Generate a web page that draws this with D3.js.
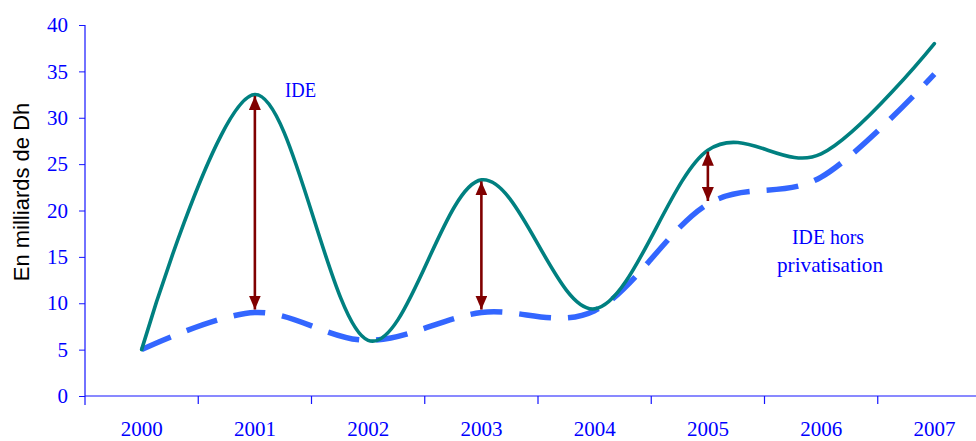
<!DOCTYPE html>
<html>
<head>
<meta charset="utf-8">
<script src="https://cdn.jsdelivr.net/npm/d3@7"></script>
<style>
  html, body { margin: 0; padding: 0; background: #fff; }
  svg { display: block; }
</style>
</head>
<body>
<svg id="chart" width="976" height="441"></svg>
<script>
// Investissements directs étrangers (milliards de Dh)
const years = ["2000", "2001", "2002", "2003", "2004", "2005", "2006", "2007"];
const ide = [5, 32.5, 6, 23.3, 9.4, 26.5, 26.1, 38];
const ideHorsPrivatisation = [5, 9, 6, 9, 9.2, 20.7, 23.6, 34.7];
const yTicks = [0, 5, 10, 15, 20, 25, 30, 35, 40];
const gapYears = ["2001", "2003", "2005"];

const svg = d3.select("#chart");
const plotLeft = 85, plotRight = 991, plotTop = 25, plotBottom = 396;

const x = d3.scaleBand().domain(years).range([plotLeft, plotRight]).paddingInner(0).paddingOuter(0);
const cx = d => x(d) + x.bandwidth() / 2;
const y = d3.scaleLinear().domain([0, 40]).range([plotBottom, plotTop]);

const axisBlue = "#1414ff";
const serif = "'Liberation Serif', 'Times New Roman', serif";

// Y axis
const gy = svg.append("g")
  .attr("transform", `translate(${plotLeft},0)`)
  .call(d3.axisLeft(y).tickValues(yTicks).tickSize(6).tickSizeOuter(0).tickPadding(11));
gy.select(".domain").remove();
gy.selectAll(".tick line").attr("stroke", axisBlue);
gy.selectAll(".tick text")
  .attr("fill", "#0000ff")
  .attr("font-family", serif)
  .attr("font-size", 21);
svg.append("line")
  .attr("x1", plotLeft).attr("x2", plotLeft)
  .attr("y1", y(40)).attr("y2", plotBottom + 9)
  .attr("stroke", axisBlue).attr("stroke-width", 1.2);

// X axis: labels at band centres, tick marks on band boundaries
const gx = svg.append("g")
  .attr("transform", `translate(0,${plotBottom})`)
  .call(d3.axisBottom(x).tickSize(0).tickPadding(25.5));
gx.select(".domain").remove();
gx.selectAll(".tick text")
  .attr("fill", "#0000ff")
  .attr("font-family", serif)
  .attr("font-size", 21);
svg.append("line")
  .attr("x1", plotLeft).attr("x2", plotRight)
  .attr("y1", plotBottom).attr("y2", plotBottom)
  .attr("stroke", axisBlue).attr("stroke-width", 1.2);
svg.append("g").selectAll("line")
  .data(years.slice(1))
  .join("line")
  .attr("x1", d => x(d)).attr("x2", d => x(d))
  .attr("y1", plotBottom).attr("y2", plotBottom + 8)
  .attr("stroke", axisBlue).attr("stroke-width", 1.2);

// Y axis title
svg.append("text")
  .attr("transform", `translate(29,192) rotate(-90)`)
  .attr("text-anchor", "middle")
  .attr("font-family", "'Liberation Sans', Arial, sans-serif")
  .attr("font-size", 22)
  .attr("fill", "#000")
  .text("En milliards de Dh");

// Series lines
const line = d3.line()
  .x((d, i) => cx(years[i]))
  .y(d => y(d))
  .curve(d3.curveCardinal.tension(0));

svg.append("path")
  .datum(ideHorsPrivatisation)
  .attr("d", line)
  .attr("fill", "none")
  .attr("stroke", "#3366ff")
  .attr("stroke-width", 5.5)
  .attr("stroke-dasharray", "32 17");

svg.append("path")
  .datum(ide)
  .attr("d", line)
  .attr("fill", "none")
  .attr("stroke", "#008080")
  .attr("stroke-width", 3.6)
  .attr("stroke-linejoin", "round")
  .attr("stroke-linecap", "round");

// Double-headed arrows showing the gap between the two series
const defs = svg.append("defs");
const arrowRed = "#800000";
defs.append("marker")
  .attr("id", "head")
  .attr("markerUnits", "userSpaceOnUse")
  .attr("viewBox", "0 0 14 12")
  .attr("refX", 14).attr("refY", 6)
  .attr("markerWidth", 14).attr("markerHeight", 12)
  .attr("orient", "auto-start-reverse")
  .append("path")
  .attr("d", "M0,0 L14,6 L0,12 Z")
  .attr("fill", arrowRed);

svg.append("g").selectAll("line")
  .data(gapYears)
  .join("line")
  .attr("x1", d => cx(d)).attr("x2", d => cx(d))
  .attr("y1", d => y(ide[years.indexOf(d)]) + 1.5)
  .attr("y2", d => y(ideHorsPrivatisation[years.indexOf(d)]) - 3)
  .attr("stroke", arrowRed)
  .attr("stroke-width", 2.6)
  .attr("marker-start", "url(#head)")
  .attr("marker-end", "url(#head)");

// Series labels
svg.append("text")
  .attr("x", 285).attr("y", 97)
  .attr("font-family", serif).attr("font-size", 22)
  .attr("fill", "#0000ff")
  .attr("textLength", 31).attr("lengthAdjust", "spacingAndGlyphs")
  .text("IDE");

const lab = svg.append("text")
  .attr("font-family", serif).attr("font-size", 22)
  .attr("fill", "#0000ff")
  .attr("text-anchor", "middle");
lab.append("tspan").attr("x", 828).attr("y", 244)
  .attr("textLength", 72).attr("lengthAdjust", "spacingAndGlyphs")
  .text("IDE hors");
lab.append("tspan").attr("x", 830).attr("y", 272)
  .attr("textLength", 106).attr("lengthAdjust", "spacingAndGlyphs")
  .text("privatisation");
</script>
</body>
</html>
